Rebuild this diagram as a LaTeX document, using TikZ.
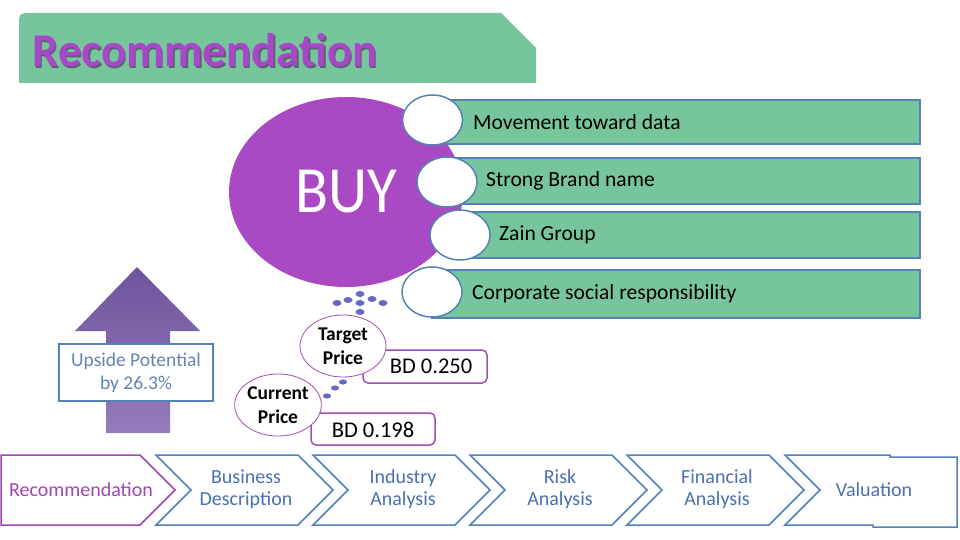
\documentclass[tikz,border=0pt]{standalone}
\usepackage{fontspec}
\setmainfont{Carlito}
\usetikzlibrary{shapes.geometric}

\definecolor{bargreen}{RGB}{119,197,156}
\definecolor{barblue}{RGB}{84,130,180}
\definecolor{buypurple}{RGB}{170,73,196}
\definecolor{titlepurple}{RGB}{168,72,200}
\definecolor{titleshade}{RGB}{95,95,120}
\definecolor{pricepurple}{RGB}{160,80,180}
\definecolor{dotblue}{RGB}{103,104,196}
\definecolor{chevblue}{RGB}{84,128,190}
\definecolor{chevtext}{RGB}{74,112,178}
\definecolor{chevpurple}{RGB}{160,70,180}
\definecolor{arrowtop}{RGB}{110,84,155}
\definecolor{arrowbot}{RGB}{150,124,188}
\definecolor{upsidetext}{RGB}{100,132,180}

\tikzset{
  bar/.style={draw=barblue, line width=1.5pt, fill=bargreen, inner sep=0pt},
  knob/.style={ellipse, draw=barblue, line width=1.5pt, fill=white, minimum width=60pt, minimum height=50pt, inner sep=0pt},
  bartext/.style={anchor=west, inner sep=0pt, font=\fontsize{21.6}{25}\selectfont},
  pricebub/.style={ellipse, draw=pricepurple, line width=0.8pt, fill=white, minimum width=86pt, minimum height=62pt, inner sep=0pt, align=center, font=\bfseries\fontsize{19.5}{24}\selectfont},
  pricebox/.style={draw=pricepurple, line width=1.5pt, rounded corners=5pt, fill=white, inner sep=0pt},
  pricetext/.style={inner sep=0pt, font=\fontsize{22.5}{26}\selectfont},
  dot/.style={fill=dotblue},
  chev/.style={draw=chevblue, line width=1.5pt, fill=white},
  chevlabel/.style={align=center, text=chevtext, inner sep=0pt, font=\fontsize{20}{22}\selectfont},
  titlefont/.style={anchor=base west, inner sep=0pt, font=\bfseries\fontsize{47}{50}\selectfont}
}

\begin{document}
\begin{tikzpicture}[x=1pt, y=-1pt]
\useasboundingbox (0,0) rectangle (960,540);

% banner
\fill[bargreen] (19,83) -- (19,27) .. controls (19,13) .. (33,13) -- (501,13) -- (536,48) -- (536,83) -- cycle;
\node[titlefont, text=titleshade] (titleshadow) at (33.5,68.5) {Recommendation};
\node[titlefont, text=titlepurple] (title) at (32,67) {Recommendation};

% buy and reasons
\node[ellipse, fill=buypurple, minimum width=234pt, minimum height=190pt, inner sep=0pt,
      text=white, font=\fontsize{66}{68}\selectfont] (buy) at (346,192) {\scalebox{0.92}[1]{BUY}};

\node[bar, minimum width=488pt, minimum height=44pt] (bar1) at (676,122) {};
\node[bar, minimum width=475pt, minimum height=46pt] (bar2) at (682.5,181) {};
\node[bar, minimum width=462pt, minimum height=46pt] (bar3) at (689,235) {};
\node[bar, minimum width=488pt, minimum height=48pt] (bar4) at (676,294) {};

\node[knob] (knob1) at (432.5,120) {};
\node[knob] (knob2) at (447,182) {};
\node[knob] (knob3) at (460,235) {};
\node[knob] (knob4) at (432,292) {};

\node[bartext] (why1) at (473,122) {Movement toward data};
\node[bartext] (why2) at (486,181) {Strong Brand name};
\node[bartext] (why3) at (499,235) {Zain Group};
\node[bartext] (why4) at (472,294) {Corporate social responsibility};

% dots
\foreach \dx/\dy in {360/294, 337/303, 348/300, 372/299, 383/303, 360/303, 360/312}
  \fill[dot] (\dx,\dy) ellipse [x radius=4.5pt, y radius=3pt];
\foreach \dx/\dy in {343/382, 335/388, 327/396}
  \fill[dot] (\dx,\dy) ellipse [x radius=4pt, y radius=2.6pt];

% prices
\node[pricebox, minimum width=124pt, minimum height=33pt] (tbox) at (425,366.5) {};
\node[pricetext] (tval) at (431,366) {BD 0.250};
\node[pricebub] (target) at (343,346) {Target\\Price};

\node[pricebox, minimum width=124pt, minimum height=32pt] (cbox) at (373,429) {};
\node[pricetext] (cval) at (373,430) {BD 0.198};
\node[pricebub] (current) at (278,405) {Current\\Price};

% upside arrow
\path[top color=arrowtop, bottom color=arrowbot] (137,267) -- (200,331) -- (170,331) -- (170,433)
  -- (106,433) -- (106,331) -- (75,331) -- cycle;
\node[draw=barblue, line width=1.5pt, fill=white, minimum width=154pt, minimum height=57pt,
      inner sep=0pt, align=center, text=upsidetext, font=\fontsize{19.5}{23}\selectfont] (upside) at (136,372.5)
      {Upside Potential\\by 26.3\%};

% steps
\draw[chev, draw=chevpurple] (1,455) -- (140,455) -- (175,490) -- (140,525) -- (1,525) -- cycle;
\node[chevlabel, text=chevpurple] (srec) at (81,490) {Recommendation};
\foreach \lx/\sname/\stxt in {156/sbus/{Business\\Description}, 313/sind/{Industry\\Analysis},
    470/srisk/{Risk\\Analysis}, 627/sfin/{Financial\\Analysis}} {
  \draw[chev] (\lx,455) -- (\lx+142,455) -- (\lx+177,490) -- (\lx+142,525) -- (\lx,525) -- (\lx+35,490) -- cycle;
  \node[chevlabel] (\sname) at (\lx+90,489) {\stxt};
}
\draw[chev] (785,455) -- (890,455) -- (890,457) -- (957,457) -- (957,527) -- (873,527) -- (873,525)
  -- (785,525) -- (820,490) -- cycle;
\node[chevlabel] (sval) at (874,490) {Valuation};

\end{tikzpicture}
\end{document}
